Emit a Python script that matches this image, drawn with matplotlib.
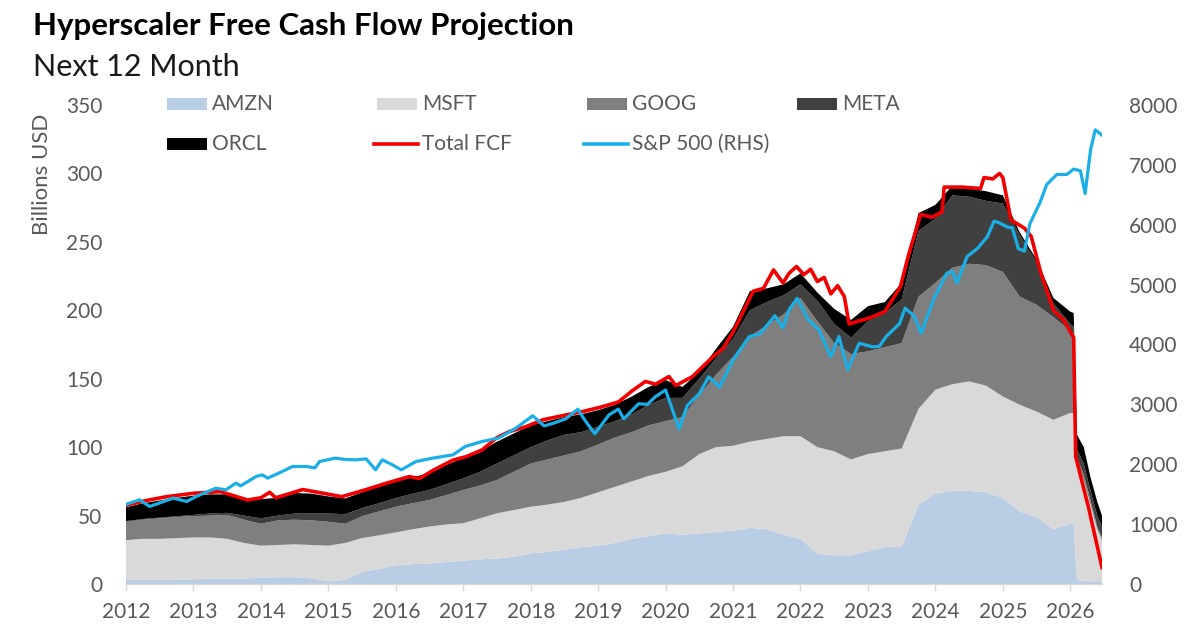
import matplotlib
matplotlib.use("Agg")
import matplotlib.pyplot as plt
from matplotlib.patches import Rectangle
from matplotlib.lines import Line2D

plt.rcParams['font.family'] = ['Lato', 'DejaVu Sans']

# ---------------- data ----------------
years = [2012.00, 2012.25, 2012.50, 2012.75,
         2013.00, 2013.25, 2013.50, 2013.75,
         2014.00, 2014.25, 2014.50, 2014.75,
         2015.00, 2015.25, 2015.50, 2015.75,
         2016.00, 2016.25, 2016.50, 2016.75,
         2017.00, 2017.25, 2017.50, 2017.75,
         2018.00, 2018.25, 2018.50, 2018.75,
         2019.00, 2019.25, 2019.50, 2019.75,
         2020.00, 2020.25, 2020.50, 2020.75,
         2021.00, 2021.25, 2021.50, 2021.75,
         2022.00, 2022.25, 2022.50, 2022.75,
         2023.00, 2023.25, 2023.50, 2023.75,
         2024.00, 2024.25, 2024.50, 2024.75,
         2025.00, 2025.25, 2025.50, 2025.75,
         2026.00, 2026.05, 2026.10, 2026.20, 2026.30, 2026.40, 2026.47]

amzn = [3, 3, 3, 3, 3.4, 4, 4, 4, 4.5, 5, 5, 4, 2, 3, 8.8, 11,
        13.7, 14.5, 15, 16, 17, 18, 18.6, 20, 22.4, 23.5, 25, 27,
        28, 30, 33, 35, 37, 36, 37, 38, 39, 41, 40, 36, 33, 22, 21, 21,
        24, 27, 27, 58, 66, 68, 68, 67, 63, 53, 49, 40, 44,
        44, 3, 2, 2, 2, 2]
msft = [29, 30, 30, 30.5, 30.6, 30, 29, 26, 23.5, 23.5, 24, 24.5,
        26, 27, 24.8, 24.5, 24, 25.5, 27, 27.5, 27.4, 30, 33.1, 34,
        34.1, 34.5, 35, 36, 39, 41, 42, 44, 45, 50, 58, 62, 62, 63, 66, 72,
        75, 78, 76, 70, 71, 70, 72, 70, 76, 78, 80, 78, 74, 78, 77, 80, 81,
        81, 85, 74, 56, 38, 30]
goog = [13.5, 14, 15, 15.5, 15.5, 16, 17.5, 17, 16, 18, 18, 18,
        17.5, 14, 15.9, 17.5, 18.8, 19, 19.4, 21.5, 24.3, 24, 24.3, 28,
        31.5, 33, 34, 34, 35, 36, 36, 37, 37, 36, 43, 53, 65, 77, 83, 89,
        101, 92, 79, 77, 75, 76, 77, 82, 78, 85, 86, 88, 91, 79, 78, 75, 60,
        58, 4, 4, 3, 2, 2]
meta = [0.5, 0.5, 0.5, 0.5, 1, 1.5, 1.5, 3, 4, 3.5, 4.5, 5,
        6, 7, 6, 6, 6.3, 7, 7.3, 8, 8.5, 10, 12, 12,
        12, 14, 15, 14, 13, 12, 13, 15, 17, 14, 12, 12, 13, 19, 17, 14,
        10, 15, 14, 12, 22, 25, 32, 48, 47, 53, 49, 47, 50, 45, 31, 10, 5,
        5, 6, 8, 7, 8, 8]
orcl = [10, 11.5, 12.5, 13.5, 14, 14, 13.5, 11.5, 14, 13, 15, 14.5,
        12.5, 11.5, 11.5, 12, 12.2, 12, 12.3, 14, 14.8, 15, 16, 16,
        16, 14, 13, 13, 12, 12, 13, 13, 13, 8, 5, 7, 9, 14, 10, 8,
        8, 6, 11, 13, 11, 8, 12, 13, 10, 7, 6, 7, 6, 2, 2, 4, 9,
        10, 11, 12, 10, 10, 8]

fcf_x = [2012.00, 2012.30, 2012.60, 2013.00, 2013.40, 2013.80, 2014.00, 2014.13,
         2014.22, 2014.62, 2014.96, 2015.20, 2015.56, 2015.85, 2016.20, 2016.35,
         2016.55, 2016.85, 2017.04, 2017.28, 2017.50, 2017.68, 2017.93, 2018.18,
         2018.52, 2018.77, 2019.02, 2019.30, 2019.50, 2019.70, 2019.85, 2020.05,
         2020.15, 2020.40, 2020.70, 2020.85, 2021.00, 2021.30, 2021.45, 2021.60,
         2021.74, 2021.83, 2021.94, 2022.05, 2022.15, 2022.25, 2022.35, 2022.45,
         2022.55, 2022.65, 2022.72, 2022.85, 2023.00, 2023.25, 2023.48, 2023.60,
         2023.78, 2023.95, 2024.10, 2024.13, 2024.40, 2024.67, 2024.72, 2024.85,
         2024.95, 2025.00, 2025.12, 2025.32, 2025.42, 2025.56, 2025.75, 2025.90,
         2026.05, 2026.08, 2026.27, 2026.47]
total_fcf = [57.5, 61, 63.8, 66.3, 67.5, 61.4, 63, 67, 63, 69, 66, 63.8, 69, 73.5,
             78.5, 77, 83, 90.6, 93, 98, 107, 111.3, 115, 120, 123.5, 126, 129, 133,
             141, 148, 146, 151.6, 145, 151.6, 166, 172, 184, 214, 216, 229.5, 220,
             227, 232, 226, 230, 221, 224, 212, 218, 210, 190, 192, 194, 199, 217,
             240, 270, 268, 272, 290, 290, 289, 297, 296, 300, 297, 266, 260, 254,
             228, 200, 193, 180, 93, 56, 12]

sp_x = [2012.00, 2012.20, 2012.35, 2012.70, 2012.90, 2013.04, 2013.33, 2013.48,
        2013.63, 2013.70, 2013.93, 2014.02, 2014.10, 2014.30, 2014.47, 2014.67,
        2014.80, 2014.87, 2015.10, 2015.25, 2015.40, 2015.56, 2015.70, 2015.80,
        2015.95, 2016.08, 2016.30, 2016.55, 2016.85, 2017.03, 2017.28, 2017.53,
        2017.78, 2018.03, 2018.20, 2018.35, 2018.52, 2018.70, 2018.80, 2018.95,
        2019.16, 2019.30, 2019.38, 2019.60, 2019.73, 2019.85, 2020.00, 2020.20,
        2020.32, 2020.50, 2020.64, 2020.80, 2021.00, 2021.24, 2021.40, 2021.62,
        2021.74, 2021.83, 2021.95, 2022.11, 2022.27, 2022.45, 2022.57, 2022.70,
        2022.87, 2023.07, 2023.17, 2023.27, 2023.47, 2023.55, 2023.68, 2023.79,
        2023.97, 2024.17, 2024.25, 2024.32, 2024.47, 2024.62, 2024.77, 2024.87,
        2024.95, 2025.07, 2025.14, 2025.23, 2025.32, 2025.40, 2025.55, 2025.65,
        2025.80, 2025.95, 2026.05, 2026.15, 2026.22, 2026.30, 2026.37, 2026.47]
sp500 = [1330, 1406, 1295, 1434, 1378, 1462, 1600, 1573, 1684, 1640, 1796, 1823,
         1768, 1870, 1963, 1963, 1940, 2046, 2102, 2080, 2074, 2090, 1907, 2074,
         1990, 1907, 2046, 2102, 2158, 2297, 2380, 2440, 2603, 2810, 2640, 2690,
         2760, 2920, 2740, 2510, 2824, 2920, 2760, 3010, 3000, 3130, 3240, 2590,
         2980, 3180, 3460, 3290, 3740, 4133, 4180, 4480, 4280, 4580, 4770, 4420,
         4250, 3798, 4133, 3580, 4021, 3960, 3970, 4133, 4350, 4606, 4480, 4189,
         4746, 5191, 5220, 5030, 5470, 5600, 5800, 6060, 6030, 5960, 5950, 5600,
         5560, 6015, 6370, 6670, 6840, 6840, 6930, 6900, 6520, 7250, 7585, 7496]

series_names = ['AMZN', 'MSFT', 'GOOG', 'META', 'ORCL']
series_colors = ['#B9CDE5', '#D9D9D9', '#7F7F7F', '#404040', '#000000']
fcf_color = '#F00000'
sp_color = '#1AAFE6'
year_ticks = list(range(2012, 2027))
left_ticks = [0, 50, 100, 150, 200, 250, 300, 350]
right_ticks = [0, 1000, 2000, 3000, 4000, 5000, 6000, 7000, 8000]

# ---------------- figure ----------------
W, H = 1200, 644
fig = plt.figure(figsize=(W / 100, H / 100), dpi=100)
grey = '#595959'

ax = fig.add_axes([126 / W, 1 - 584 / H, (1102 - 126) / W, (584 - 105) / H])
ax.stackplot(years, amzn, msft, goog, meta, orcl, colors=series_colors,
             linewidth=0, zorder=2)
ax.plot(fcf_x, total_fcf, color=fcf_color, lw=2.6, solid_joinstyle='round', zorder=5)
ax.set_xlim(2012, 2026.47)
ax.set_ylim(0, 350)
ax.set_yticks(left_ticks)
ax.set_xticks(year_ticks)
ax.set_xticklabels([str(y) for y in year_ticks])
for s in ['top', 'right', 'left']:
    ax.spines[s].set_visible(False)
ax.spines['bottom'].set_color('#D9D9D9')
ax.spines['bottom'].set_linewidth(1.0)
ax.spines['bottom'].set_zorder(6)
ax.tick_params(axis='y', length=0, pad=17, labelsize=15, labelcolor=grey)
ax.tick_params(axis='x', length=5, width=1, color='#D9D9D9', direction='out',
               pad=8, labelsize=15, labelcolor=grey)

ax2 = ax.twinx()
ax2.plot(sp_x, sp500, color=sp_color, lw=2.3, solid_joinstyle='round')
ax2.set_ylim(0, 8000)
ax2.set_yticks(right_ticks)
ax2.tick_params(axis='y', length=0, pad=19.5, labelsize=15, labelcolor=grey)
for s in ax2.spines.values():
    s.set_visible(False)

# ---------------- titles ----------------
fig.text(33 / W, 1 - 35 / H, 'Hyperscaler Free Cash Flow Projection',
         fontsize=22.5, fontweight='bold', color='black', va='baseline', ha='left')
fig.text(33 / W, 1 - 76 / H, 'Next 12 Month', fontsize=22, color='#1a1a1a',
         va='baseline', ha='left')
fig.text(42 / W, 1 - 114 / H, 'Billions USD', rotation=90, va='top', ha='center',
         fontsize=16, color=grey)

# ---------------- legend (manual, Excel-like grid) ----------------
cols = [167, 377, 587, 797]
rows = [104, 144]
entries = [('patch', 0, 0, series_names[0], series_colors[0]),
           ('patch', 1, 0, series_names[1], series_colors[1]),
           ('patch', 2, 0, series_names[2], series_colors[2]),
           ('patch', 3, 0, series_names[3], series_colors[3]),
           ('patch', 0, 1, series_names[4], series_colors[4]),
           ('line', 1, 1, 'Total FCF', fcf_color),
           ('line', 2, 1, 'S&P 500 (RHS)', sp_color)]
for kind, c, r, label, color in entries:
    x0 = cols[c]
    yc = rows[r]
    if kind == 'patch':
        fig.add_artist(Rectangle((x0 / W, 1 - (yc + 6) / H), 40 / W, 12 / H,
                                 transform=fig.transFigure, facecolor=color,
                                 edgecolor='none'))
    else:
        fig.add_artist(Line2D([(x0 - 3) / W, (x0 + 41) / W], [1 - yc / H, 1 - yc / H],
                              transform=fig.transFigure, color=color, lw=2.6))
    fig.text((x0 + 45) / W, 1 - yc / H, label, fontsize=15, color=grey,
             va='center', ha='left')

fig.savefig('out.png', dpi=100)
